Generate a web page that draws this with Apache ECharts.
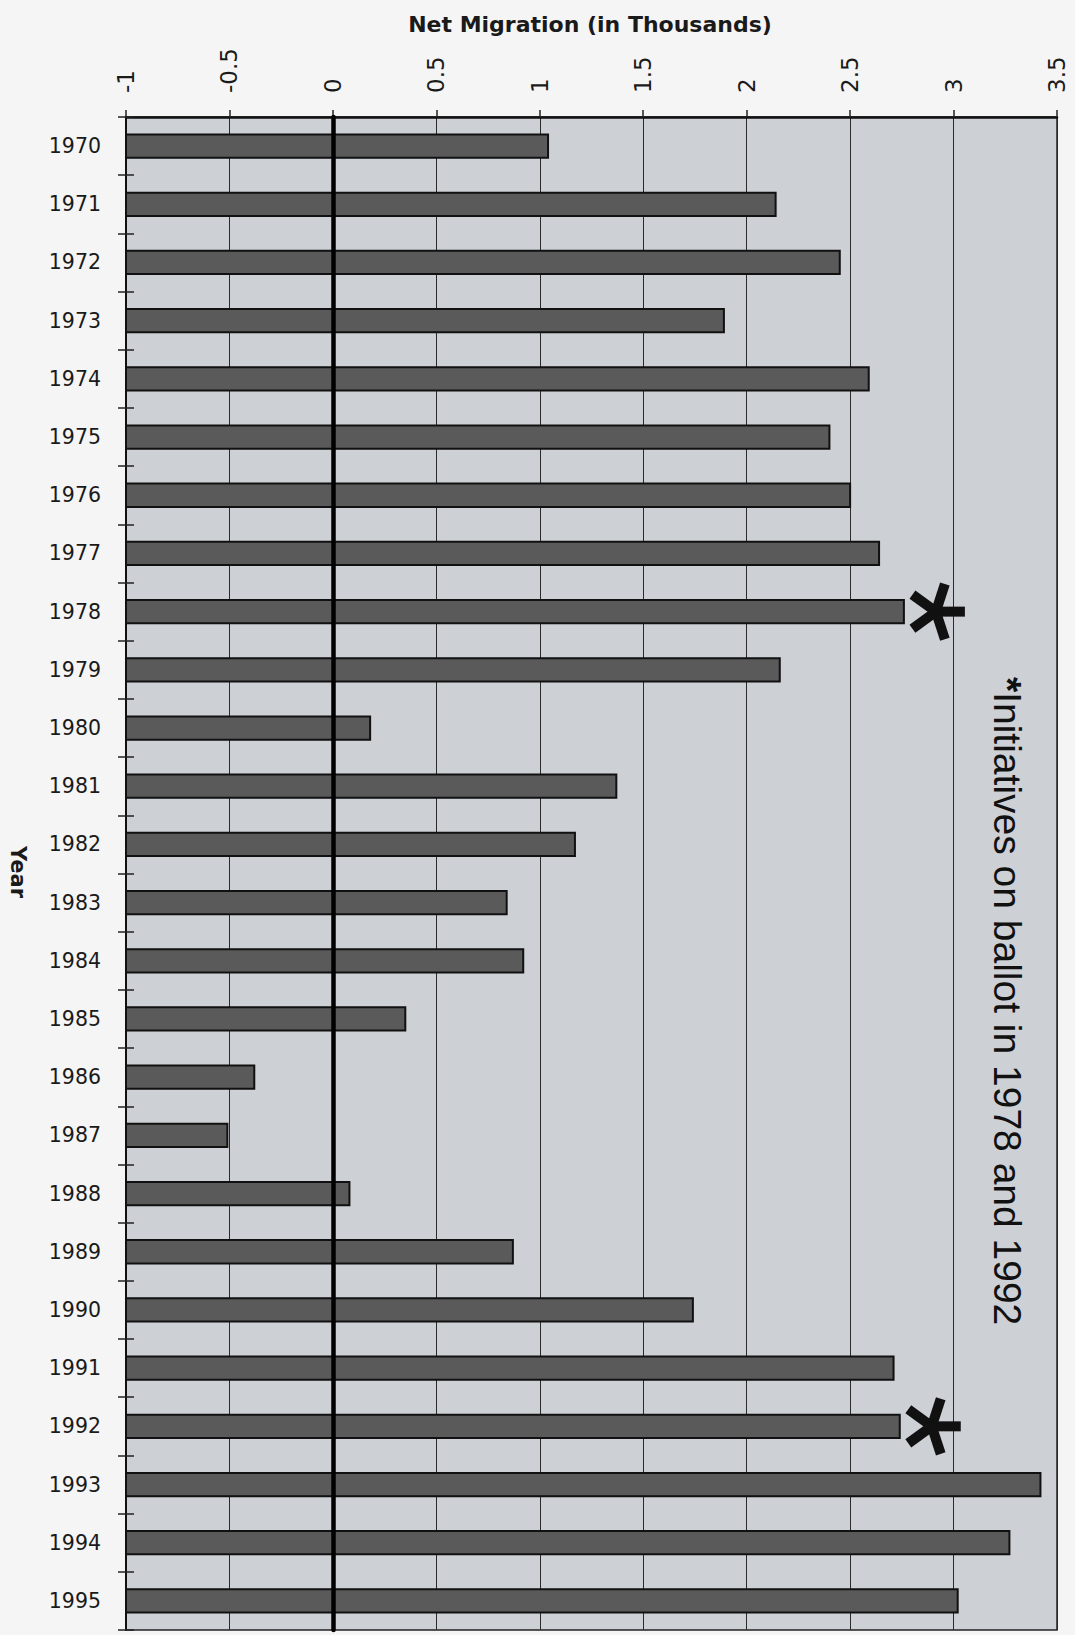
<!DOCTYPE html>
<html>
<head>
<meta charset="utf-8">
<title>Net Migration (in Thousands)</title>
<script src="https://cdn.jsdelivr.net/npm/echarts@6/dist/echarts.min.js"></script>
<style>
  html, body { margin: 0; padding: 0; background: #f5f5f5; }
  #chart { width: 1075px; height: 1635px; }
</style>
</head>
<body>
<div id="chart"></div>
<script>
// Years on the category axis, top to bottom
const years = ['1970', '1971', '1972', '1973', '1974', '1975', '1976', '1977', '1978', '1979',
               '1980', '1981', '1982', '1983', '1984', '1985', '1986', '1987', '1988', '1989',
               '1990', '1991', '1992', '1993', '1994', '1995'];

// Net migration per year, in thousands
const netMigration = [1.04, 2.14, 2.45, 1.89, 2.59, 2.40, 2.50, 2.64, 2.76, 2.16,
                      0.18, 1.37, 1.17, 0.84, 0.92, 0.35, -0.38, -0.51, 0.08, 0.87,
                      1.74, 2.71, 2.74, 3.42, 3.27, 3.02];

// Years with ballot initiatives, flagged with an asterisk
const initiativeYears = ['1978', '1992'];

// Value axis range and tick step
const axisMin = -1;
const axisMax = 3.5;
const axisStep = 0.5;

const labelFont = 'DejaVu Sans';
const ink = '#1a1a1a';

// Bars grow from the left edge of the value axis, like the original spreadsheet chart
function renderBar(params, api) {
  const v = api.value(0);
  const cat = api.value(1);
  const end = api.coord([v, cat]);
  const start = api.coord([axisMin, cat]);
  const band = api.size([0, 1])[1];
  const h = band * 0.40;
  const children = [{
    type: 'rect',
    shape: { x: start[0], y: end[1] - h / 2, width: end[0] - start[0], height: h },
    style: { fill: '#5a5a5a', stroke: '#111', lineWidth: 2 }
  }];
  if (initiativeYears.indexOf(years[params.dataIndex]) !== -1) {
    const cx = end[0] + 32;
    const cy = end[1];
    for (let k = 0; k < 5; k++) {
      children.push({
        type: 'rect',
        x: cx, y: cy,
        rotation: k * 2 * Math.PI / 5,
        shape: { x: -2, y: -5, width: 31, height: 10 },
        style: { fill: '#111' }
      });
    }
  }
  return { type: 'group', children: children };
}

const chart = echarts.init(document.getElementById('chart'), null, { renderer: 'svg' });

chart.setOption({
  backgroundColor: '#f5f5f5',
  animation: false,
  grid: {
    left: 126, right: 18, top: 117, bottom: 5,
    show: true,
    backgroundColor: '#cdd0d4',
    borderColor: '#222',
    borderWidth: 1.5
  },
  xAxis: {
    type: 'value',
    position: 'top',
    min: axisMin,
    max: axisMax,
    interval: axisStep,
    axisLine: { show: true, onZero: false, lineStyle: { color: '#111', width: 2.5 } },
    axisTick: { show: true, length: 7, lineStyle: { color: '#222', width: 1.5 } },
    axisLabel: { rotate: -90, margin: 24, fontSize: 23, fontFamily: labelFont, color: ink },
    splitLine: { show: true, lineStyle: { color: '#2a2a2a', width: 1 } }
  },
  yAxis: [
    {
      type: 'category',
      data: years,
      inverse: true,
      position: 'left',
      axisLine: { show: true, onZero: false, lineStyle: { color: '#111', width: 2 } },
      axisTick: { show: true, length: 8, lineStyle: { color: '#222', width: 1.5 } },
      axisLabel: { margin: 25, fontSize: 20.5, fontFamily: labelFont, color: ink },
      splitLine: { show: false }
    },
    {
      // inner half of the crossing tick marks
      type: 'category',
      data: years,
      inverse: true,
      position: 'left',
      axisLine: { show: false, onZero: false },
      axisTick: { show: true, inside: true, length: 8, lineStyle: { color: '#222', width: 1.5 } },
      axisLabel: { show: false },
      splitLine: { show: false }
    },
    {
      // heavy zero line drawn over the bars
      type: 'category',
      data: years,
      inverse: true,
      position: 'left',
      z: 5,
      axisLine: { show: true, onZero: true, lineStyle: { color: '#000', width: 4.5 } },
      axisTick: { show: false },
      axisLabel: { show: false },
      splitLine: { show: false }
    }
  ],
  series: [{
    type: 'custom',
    name: 'Net Migration',
    xAxisIndex: 0,
    yAxisIndex: 0,
    encode: { x: 0, y: 1 },
    data: years.map((y, i) => [netMigration[i], y]),
    renderItem: renderBar,
    z: 2
  }],
  graphic: [
    {
      type: 'text',
      x: 590, y: 24,
      style: {
        text: 'Net Migration (in Thousands)',
        font: 'bold 22px "DejaVu Sans"',
        fill: ink,
        align: 'center',
        verticalAlign: 'middle'
      }
    },
    {
      type: 'text',
      x: 17.5, y: 872,
      rotation: -Math.PI / 2,
      style: {
        text: 'Year',
        font: 'bold 21px "DejaVu Sans"',
        fill: ink,
        align: 'center',
        verticalAlign: 'middle'
      }
    },
    {
      type: 'text',
      x: 1007, y: 677,
      rotation: -Math.PI / 2,
      z: 10,
      style: {
        text: '{s|*}Initiatives on ballot in 1978 and 1992',
        font: '39px "Liberation Sans"',
        fill: '#111',
        align: 'left',
        verticalAlign: 'middle',
        rich: {
          s: { font: 'bold 39px "Liberation Sans"', fill: '#111' }
        }
      }
    }
  ]
});
</script>
</body>
</html>
